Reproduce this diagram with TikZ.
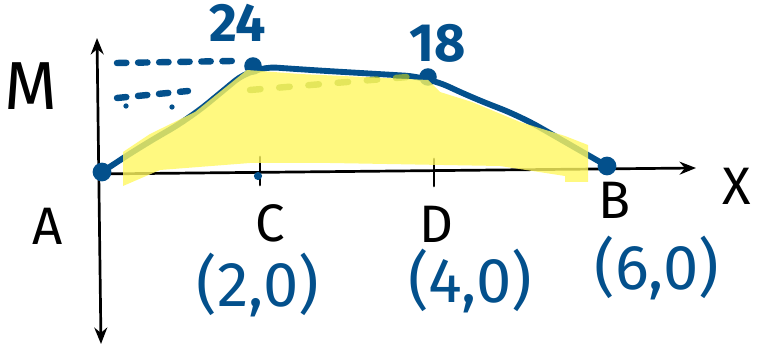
\documentclass[tikz,border=0pt]{standalone}
\usepackage{fontspec}
\setmainfont{Fira Sans}
\usetikzlibrary{arrows.meta}
\definecolor{pen}{HTML}{03508C}
\definecolor{hl}{HTML}{FFF860}
\definecolor{mix}{HTML}{7AA048}
\tikzset{
  axis/.style={line width=2.3pt, black, line cap=round},
  curve/.style={line width=5pt, pen, line cap=round, line join=round},
  dashblue/.style={line width=5.5pt, pen, line cap=round, dash pattern=on 8pt off 10pt},
  dashmix/.style={line width=5.5pt, mix, line cap=round, dash pattern=on 9pt off 16pt},
  dot/.style={circle, fill=pen, inner sep=0pt, minimum size=#1},
  lbl/.style={inner sep=0pt, font=\fontsize{45}{45}\selectfont},
  blbl/.style={inner sep=0pt, text=pen, font=\bfseries\fontsize{46}{46}\selectfont},
  coord/.style={inner sep=0pt, text=pen, font=\fontsize{54}{54}\selectfont}
}
\begin{document}
\begin{tikzpicture}[x=0.03cm,y=-0.03cm]
\useasboundingbox (0,0) rectangle (759,349);
% axes
\coordinate (yt) at (97,38);
\coordinate (yb) at (101,344);
\coordinate (xo) at (95,174);
\coordinate (xe) at (696,168);
\draw[axis,{Stealth[length=14pt,width=11pt]}-{Stealth[length=14pt,width=11pt]}] (yt) -- (yb);
\draw[axis,-{Stealth[length=14pt,width=11pt]}] (xo) -- (xe);
% ticks
\coordinate (tc1) at (260,157); \coordinate (tc2) at (260,185);
\coordinate (td1) at (434,159); \coordinate (td2) at (434,186);
\draw[axis] (tc1) -- (tc2);
\draw[axis] (td1) -- (td2);
% dashed helper lines
\coordinate (d1a) at (117,63); \coordinate (d1b) at (232,61);
\coordinate (d2a) at (117,98); \coordinate (d2b) at (188,91);
\draw[dashblue] (d1a) -- (d1b);
\draw[dashblue] (d2a) -- (d2b);
\node[dot=4.5pt] (p1) at (126,106) {};
\node[dot=4.5pt] (p2) at (172,107) {};
% dots
\node[dot=16pt] (A) at (102,172) {};
\node[dot=15pt] (C) at (253,66) {};
\node[dot=15pt] (D) at (428,77) {};
\node[dot=16pt] (B) at (607,166) {};
\node[dot=7pt] (cm) at (258,176) {};
% curve
\draw[curve, rounded corners=20pt] (A.center) -- (140,147) -- (190,118) -- (C.center)
  -- (310,70) -- (D.center) -- (475,99) -- (520,116) -- (B.center);
% green dashed (under yellow)
\coordinate (g1) at (250,90); \coordinate (g2) at (420,76);
\draw[dashmix] (g1) -- (g2);
% yellow highlight
\fill[hl, opacity=0.8] (123,152) -- (150,134) -- (195,112) -- (247,70) -- (300,74)
  -- (428,80) -- (440,92) -- (472,102) -- (520,122) -- (565,136) -- (588,145)
  -- (588,182) -- (565,182) -- (565,176) -- (500,166) -- (330,163) -- (250,163)
  -- (160,170) -- (123,186) -- cycle;
% labels
\node[lbl, font=\fontsize{58}{58}\selectfont] (M) at (31,86) {M};
\node[lbl] (lA) at (48,226) {A};
\node[lbl] (lC) at (270,223) {C};
\node[lbl] (lD) at (436,224) {D};
\node[lbl] (lB) at (615,200) {B};
\node[lbl] (lX) at (737,186) {X};
\node[blbl] (v24) at (238,23) {24};
\node[blbl] (v18) at (438,43) {18};
\node[coord] (c2) at (258,285) {(2,0)};
\node[coord] (c4) at (470,281) {(4,0)};
\node[coord] (c6) at (657,268) {(6,0)};
\end{tikzpicture}
\end{document}
